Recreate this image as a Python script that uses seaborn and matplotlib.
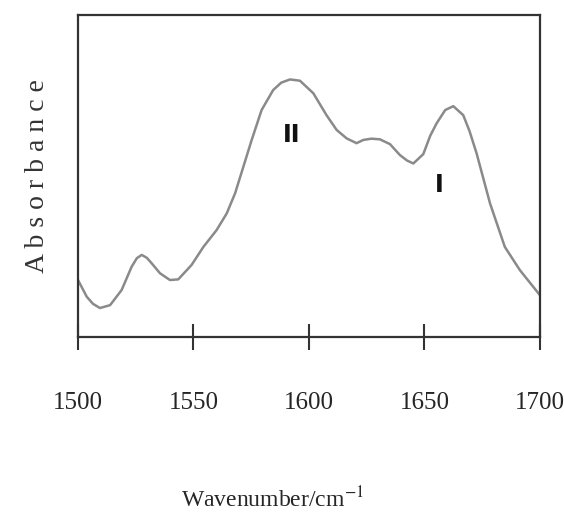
import seaborn as sns
import pandas as pd
import matplotlib.pyplot as plt

# spectrum (absorbance in arbitrary units)
wavenumber = [1500.0, 1503.8, 1506.5, 1509.5, 1513.9, 1518.9, 1523.2, 1525.5, 1527.6, 1529.8,
              1531.9, 1535.5, 1539.8, 1543.4, 1549.2, 1554.3, 1560.0, 1564.4, 1568.0, 1571.6,
              1575.2, 1579.5, 1584.5, 1588.0, 1591.8, 1596.1, 1601.9, 1607.6, 1612.0, 1616.3,
              1620.6, 1623.5, 1627.0, 1630.7, 1635.1, 1639.4, 1642.5, 1645.2, 1649.5, 1652.5,
              1655.3, 1659.0, 1662.5, 1666.8, 1669.5, 1672.6, 1678.4, 1684.8, 1691.3, 1700.0]
absorbance = [0.177, 0.125, 0.103, 0.090, 0.099, 0.146, 0.218, 0.245, 0.255, 0.246,
              0.229, 0.198, 0.177, 0.179, 0.224, 0.280, 0.332, 0.384, 0.446, 0.529,
              0.612, 0.705, 0.767, 0.790, 0.800, 0.796, 0.757, 0.689, 0.643, 0.617,
              0.602, 0.612, 0.616, 0.614, 0.599, 0.565, 0.548, 0.539, 0.568, 0.625,
              0.664, 0.705, 0.717, 0.689, 0.640, 0.570, 0.415, 0.280, 0.208, 0.130]
tick_values = [1500, 1550, 1600, 1650, 1700]
band_labels = ["II", "I"]
band_x = [1592.5, 1656.4]
band_y = [0.627, 0.472]

df = pd.DataFrame({"wn": wavenumber, "A": absorbance})

sns.set_style("white")
plt.rcParams["font.family"] = ["Liberation Serif", "DejaVu Serif"]
plt.rcParams["mathtext.fontset"] = "stix"

fig = plt.figure(figsize=(5.64, 5.15), dpi=100)
ax = fig.add_axes([0.1383, 0.3456, 0.819, 0.6252])

sns.lineplot(data=df, x="wn", y="A", ax=ax, color="#8a8a8a", linewidth=1.8)

ax.set_xlim(1500, 1700)
ax.set_ylim(0, 1)
ax.set_xticks(tick_values)
ax.set_xticklabels([str(t) for t in tick_values], fontsize=18)
ax.set_yticks([])
ax.tick_params(axis="x", bottom=True, direction="inout", length=19, width=1.5,
               color="#333333", pad=30)

for s in ax.spines.values():
    s.set_color("#333333")
    s.set_linewidth(1.6)

for lab, x, y in zip(band_labels, band_x, band_y):
    ax.text(x, y, lab, fontsize=17, family="DejaVu Sans", ha="center", va="center",
            color="#111111", fontweight="bold")

ax.set_xlabel("Wavenumber/cm$^{-1}$", fontsize=17)
ax.xaxis.set_label_coords(0.42, -0.465)
ax.set_ylabel("A b s o r b a n c e", fontsize=20, labelpad=20, color="#333333")

fig.savefig("out.png", dpi=100)
